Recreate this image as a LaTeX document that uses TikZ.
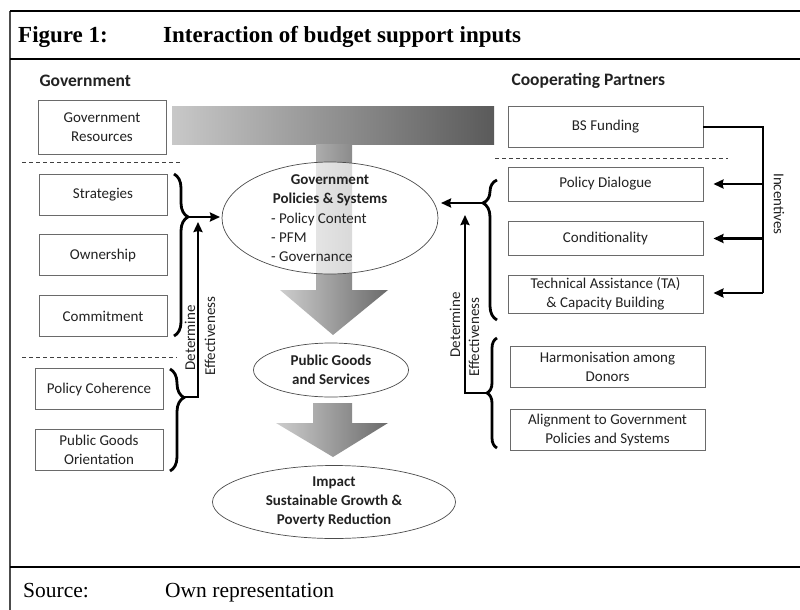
\documentclass[tikz,border=0pt]{standalone}
\usepackage{fontspec}
\setmainfont{Liberation Serif}
\newfontfamily\bodyfont{Carlito}
\usetikzlibrary{shapes.geometric,arrows.meta,decorations.pathreplacing}
\definecolor{boxline}{HTML}{6A6A6A}
\definecolor{txt}{HTML}{222222}
\definecolor{shlight}{HTML}{C8C8C8}
\definecolor{shdark}{HTML}{5A5A5A}
\begin{document}
\begin{tikzpicture}[x=1pt,y=-1pt,
  box/.style={draw=boxline, line width=0.9pt, minimum width=128, minimum height=41, inner sep=1pt, align=center, text=txt, font=\bodyfont\fontsize{15}{19}\selectfont},
  rbox/.style={box, minimum width=195},
  oval/.style={draw=black!70, line width=0.7pt, ellipse, inner sep=0pt, align=center, text=txt, font=\bodyfont\bfseries\fontsize{15}{19}\selectfont},
  hdr/.style={anchor=west, text=txt, font=\bodyfont\bfseries\fontsize{17.5}{21}\selectfont},
  lbl/.style={text=txt, font=\bodyfont\fontsize{15}{19}\selectfont, inner sep=0pt},
  sep/.style={draw=black!75, line width=0.8pt, dash pattern=on 4pt off 3pt},
  frame/.style={line width=2.2pt, black},
  thk/.style={line width=2.8pt, black},
  arr/.style={thk, -{Stealth[length=10pt,width=9pt,inset=1pt]}},
  bracestyle/.style={thk, decorate}
]
\useasboundingbox (0,0) rectangle (800,610);
\fill[white] (0,0) rectangle (800,610);

% frame
\draw[line width=1.8pt, black!70] (10,11) -- (10,610);
\draw[frame] (10,11) -- (800,11);
\draw[frame] (10,59) -- (800,59);
\draw[frame] (10,567) -- (800,567);
\node[anchor=base west, inner sep=0pt, font=\bfseries\fontsize{23}{27}\selectfont] (fig) at (18,43) {Figure 1:};
\node[anchor=base west, inner sep=0pt, font=\bfseries\fontsize{23}{27}\selectfont] (ttl) at (163,43) {Interaction of budget support inputs};
\node[anchor=base west, inner sep=0pt, font=\fontsize{21.5}{25}\selectfont] (src) at (23,597) {Source:};
\node[anchor=base west, inner sep=0pt, font=\fontsize{21.5}{25}\selectfont] (own) at (165,597) {Own representation};

% headers
\node[hdr] (hgov) at (36,81) {Government};
\node[hdr] (hcp) at (508,81) {Cooperating Partners};

% gradient T bar and arrows
\shade[left color=shlight, right color=shdark] (172,106) rectangle (494,144);
\shade[left color=shlight!90, right color=shdark!90]
  (316,144) -- (352,144) -- (352,290) -- (388,290) -- (333,335) -- (280,290) -- (316,290) -- cycle;
\shade[left color=shlight!90, right color=shdark!90]
  (313,403) -- (352,403) -- (352,423) -- (388,423) -- (333,457) -- (276,423) -- (313,423) -- cycle;

% government boxes
\node[box, minimum height=54] (gres) at (102,127) {Government\\Resources};
\draw[sep] (22,162) -- (180,162);
\node[box] (strat) at (103,195) {Strategies};
\node[box] (own2) at (103,255) {Ownership};
\node[box] (comm) at (103,316) {Commitment};
\draw[sep] (22,357) -- (177,357);
\node[box] (pcoh) at (99,389) {Policy Coherence};
\node[box] (pgo) at (99,450) {Public Goods\\Orientation};

% partner boxes
\node[rbox] (bsf) at (605.5,127) {BS Funding};
\draw[sep] (495,158) -- (728,158);
\node[rbox, minimum height=34] (pd) at (605.5,184) {Policy Dialogue};
\node[rbox, minimum height=34] (cond) at (605.5,238.5) {Conditionality};
\node[rbox, minimum height=38] (ta) at (605.5,294) {Technical Assistance (TA)\\ \& Capacity Building};
\node[rbox] (harm) at (607.5,366.5) {Harmonisation among\\Donors};
\node[rbox] (align) at (607.5,429.5) {Alignment to Government\\Policies and Systems};

% ellipses
\node[oval, minimum width=216, minimum height=112, fill=white, fill opacity=0.68, text opacity=1] (gps) at (330,218) {};
\node[lbl, font=\bodyfont\bfseries\fontsize{15}{19}\selectfont, align=center] (gpst) at (330,190) {Government\\Policies \& Systems};
\node[lbl, anchor=west, align=left] (gpsl) at (271,237) {- Policy Content\\- PFM\\- Governance};
\node[oval, minimum width=155, minimum height=54, fill=white] (pgs) at (331,370) {Public Goods\\and Services};
\node[oval, minimum width=243, minimum height=73, fill=white] (imp) at (334,502) {Impact\\Sustainable Growth \&\\Poverty Reduction};

% braces
\draw[bracestyle, decoration={brace, amplitude=14pt, aspect=0.265}] (174,174) -- (174,336);
\draw[bracestyle, decoration={brace, amplitude=14pt, aspect=0.28}] (170,369) -- (170,471);
\draw[bracestyle, decoration={brace, amplitude=14pt, aspect=0.836}] (497,320) -- (497,180);
\draw[bracestyle, decoration={brace, amplitude=10pt, aspect=0.5}] (497,448) -- (497,338);
\coordinate (lb1tip) at (188,217);
\coordinate (lb1end) at (220,217);
\coordinate (lb2tip) at (184,397);
\coordinate (lvtop) at (198,222);
\coordinate (rb1tip) at (483,203);
\coordinate (rb1end) at (441,203);
\coordinate (rb2tip) at (487,393);
\coordinate (rvtop) at (465,215);

\draw[arr] (lb1tip) -- (lb1end);
\draw[arr] (lb2tip) -| (lvtop);
\draw[arr] (rb1tip) -- (rb1end);
\draw[arr] (rb2tip) -| (rvtop);

\node[lbl, rotate=90] (ldet) at (190,338) {Determine};
\node[lbl, rotate=90] (leff) at (210,336) {Effectiveness};
\node[lbl, rotate=90] (rdet) at (455,325) {Determine};
\node[lbl, rotate=90] (reff) at (474,337) {Effectiveness};

% incentives
\coordinate (incTop) at (763,127);
\coordinate (incBot) at (763,293);
\draw[thk] (bsf.east) -- (incTop) -- (incBot);
\draw[arr, shorten >=10pt] (incBot |- pd.east) -- (pd.east);
\draw[arr, shorten >=10pt] (incBot |- cond.east) -- (cond.east);
\draw[arr, shorten >=10pt] (incBot) -- (incBot -| ta.east);
\node[lbl, rotate=-90] (inc) at (779,204) {Incentives};
\end{tikzpicture}
\end{document}
